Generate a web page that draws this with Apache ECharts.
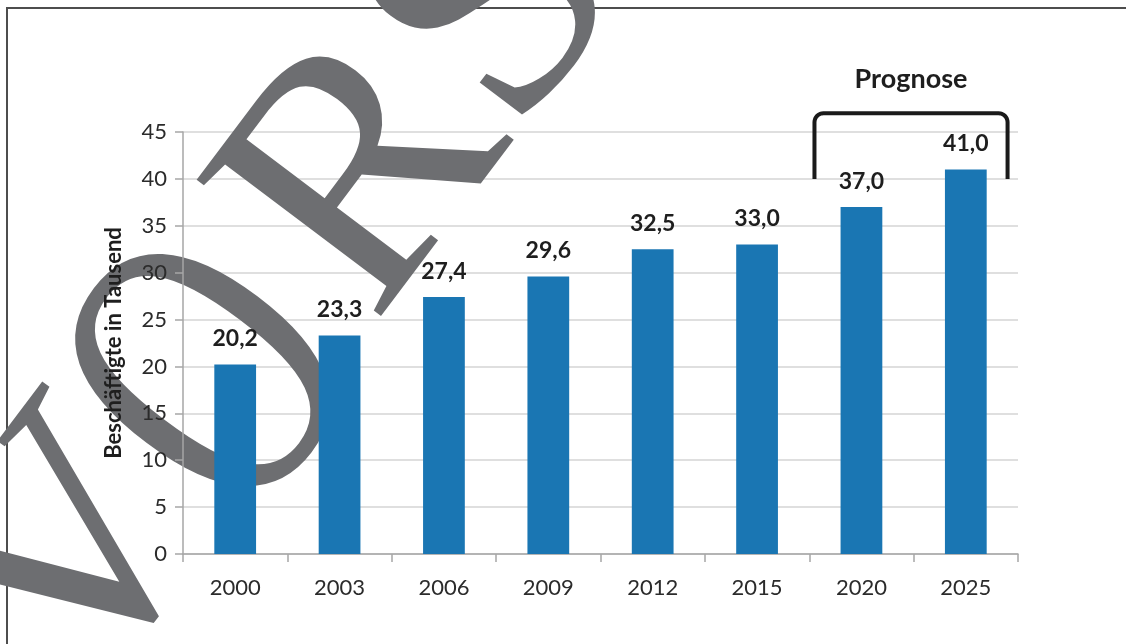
<!DOCTYPE html>
<html>
<head>
<meta charset="utf-8">
<script src="https://cdn.jsdelivr.net/npm/echarts@6/dist/echarts.min.js"></script>
<style>
html,body{margin:0;padding:0;background:#fff;}
#c{width:1126px;height:644px;}
</style>
</head>
<body>
<div id="c"></div>
<script>
const categories = ['2000','2003','2006','2009','2012','2015','2020','2025'];
const values = [20.2, 23.3, 27.4, 29.6, 32.5, 33.0, 37.0, 41.0];
const yMin = 0, yMax = 45, yStep = 5;
const yAxisName = 'Beschäftigte in Tausend';
const forecastLabel = 'Prognose';
const forecastCategories = ['2020','2025'];
const watermarkText = 'VORSCHAU';

const SANS = 'Lato, "Open Sans", sans-serif';
const chart = echarts.init(document.getElementById('c'), null, {renderer:'canvas'});

const option = {
  backgroundColor: '#ffffff',
  animation: false,
  grid: {left: 183, right: 108, top: 132, bottom: 90, containLabel: false},
  xAxis: {
    type: 'category',
    data: categories,
    boundaryGap: true,
    axisLine: {show: true, lineStyle: {color: '#a6a6a6', width: 1.5}},
    axisTick: {show: true, length: 8, alignWithLabel: false, lineStyle: {color: '#a6a6a6', width: 1.5}},
    axisLabel: {color: '#2b2b2b', fontFamily: SANS, fontSize: 22, margin: 23}
  },
  yAxis: {
    type: 'value',
    min: yMin, max: yMax, interval: yStep,
    name: yAxisName,
    nameLocation: 'middle',
    nameGap: 58,
    nameRotate: 90,
    nameTextStyle: {color: '#1e1e1e', fontFamily: SANS, fontSize: 22, fontWeight: 'bold'},
    axisLine: {show: true, lineStyle: {color: '#a6a6a6', width: 1.5}},
    axisTick: {show: true, length: 8, lineStyle: {color: '#a6a6a6', width: 1.5}},
    axisLabel: {color: '#2b2b2b', fontFamily: SANS, fontSize: 22, margin: 16},
    splitLine: {show: true, lineStyle: {color: '#d4d4d4', width: 1.5}}
  },
  series: [{
    type: 'bar',
    data: values,
    barWidth: '40%',
    itemStyle: {color: '#1a76b3'},
    label: {
      show: true, position: 'top', distance: 14,
      color: '#1e1e1e', fontFamily: SANS, fontSize: 23, fontWeight: 'bold',
      formatter: p => p.value.toFixed(1).replace('.', ',')
    },
    z: 2
  }]
};
chart.setOption(option);

// Annotation bracket + label, positioned through the chart's own scales
const band = chart.convertToPixel({xAxisIndex: 0}, categories[1]) - chart.convertToPixel({xAxisIndex: 0}, categories[0]);
const cL = chart.convertToPixel({xAxisIndex: 0}, forecastCategories[0]);
const cR = chart.convertToPixel({xAxisIndex: 0}, forecastCategories[1]);
const bx1 = cL - 0.45 * band, bx2 = cR + 0.40 * band;
const byBottom = chart.convertToPixel({yAxisIndex: 0}, 40);
const byTop = chart.convertToPixel({yAxisIndex: 0}, 47);
const byText = chart.convertToPixel({yAxisIndex: 0}, 50.6);
const r = 9;
function corner(cx, cy, a0, a1) {
  const pts = [];
  for (let i = 0; i <= 8; i++) {
    const a = a0 + (a1 - a0) * i / 8;
    pts.push([cx + r * Math.cos(a), cy + r * Math.sin(a)]);
  }
  return pts;
}
const bracketPts = [[bx1, byBottom]]
  .concat(corner(bx1 + r, byTop + r, Math.PI, 1.5 * Math.PI))
  .concat(corner(bx2 - r, byTop + r, 1.5 * Math.PI, 2 * Math.PI))
  .concat([[bx2, byBottom]]);

// Watermark: rotated serif letters
const WM_FONT = 'normal 350px "Liberation Serif"';
const WM_FILL = '#6d6e71';
const wmLetters = watermarkText.split('');
function wmText(txt, x, y, extra) {
  return Object.assign({type: 'text', x: x, y: y, silent: true,
    style: {text: txt, font: WM_FONT, fill: WM_FILL, align: 'center', verticalAlign: 'middle'}}, extra || {});
}
const wmChildren = [
  wmText(wmLetters[0], 0, -110),
  wmText(wmLetters[1], 228, -100, {scaleX: 0.82, scaleY: 1.16}),
  wmText(wmLetters[2], 483, -108),
  wmText(wmLetters[3], 698, -108),
  wmText(wmLetters.slice(4).join(''), 796, -108)
];
wmChildren[4].style.align = 'left';

chart.setOption({
  graphic: [
    {type: 'rect', z: 0, silent: true,
     shape: {x: 7, y: 8, width: 1300, height: 800},
     style: {fill: 'none', stroke: '#4d4d4d', lineWidth: 2}},
    {type: 'polyline', z: 10, silent: true,
     shape: {points: bracketPts},
     style: {fill: 'none', stroke: '#1a1a1a', lineWidth: 4, lineJoin: 'round'}},
    {type: 'text', z: 10, silent: true,
     x: (bx1 + bx2) / 2, y: byText,
     style: {text: forecastLabel, font: 'bold 27px ' + SANS, fill: '#1e1e1e', align: 'center', verticalAlign: 'middle'}},
    {type: 'group', z: 100, silent: true,
     x: 166, y: 628, rotation: 53 * Math.PI / 180,
     children: wmChildren}
  ]
});
</script>
</body>
</html>
